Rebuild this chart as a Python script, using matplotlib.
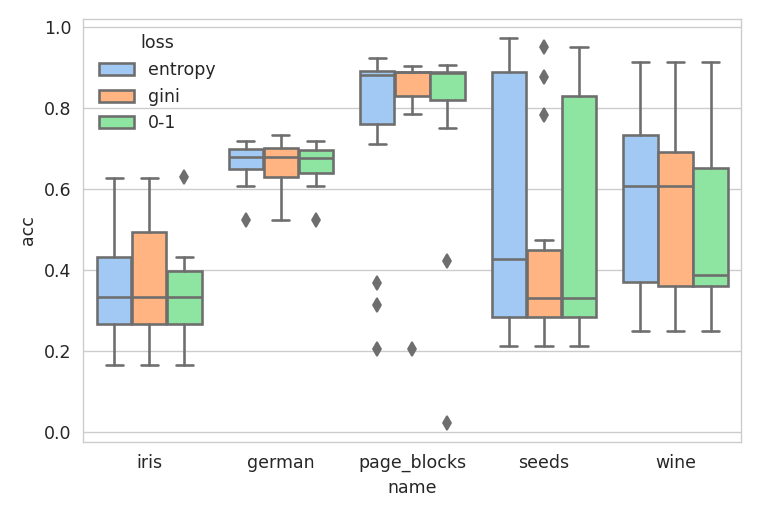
import numpy as np
import matplotlib.pyplot as plt
import seaborn as sns
from matplotlib.patches import Patch

names = ["iris", "german", "page_blocks", "seeds", "wine"]
losses = ["entropy", "gini", "0-1"]

# per dataset, per loss: (whislo, q1, med, q3, whishi)
stats = {
    "iris": [(0.164, 0.265, 0.333, 0.431, 0.627),
             (0.164, 0.265, 0.333, 0.494, 0.627),
             (0.164, 0.265, 0.333, 0.398, 0.431)],
    "german": [(0.608, 0.648, 0.679, 0.698, 0.717),
               (0.524, 0.628, 0.679, 0.702, 0.733),
               (0.608, 0.640, 0.676, 0.695, 0.717)],
    "page_blocks": [(0.711, 0.760, 0.881, 0.892, 0.923),
                    (0.784, 0.829, 0.888, 0.889, 0.904),
                    (0.749, 0.819, 0.887, 0.889, 0.906)],
    "seeds": [(0.212, 0.283, 0.427, 0.889, 0.973),
              (0.212, 0.283, 0.331, 0.450, 0.473),
              (0.212, 0.283, 0.331, 0.829, 0.949)],
    "wine": [(0.249, 0.371, 0.608, 0.733, 0.913),
             (0.249, 0.361, 0.608, 0.692, 0.913),
             (0.249, 0.361, 0.386, 0.651, 0.913)],
}
fliers = {
    "iris": [[], [], [0.629]],
    "german": [[0.524], [], [0.524]],
    "page_blocks": [[0.367, 0.313, 0.204], [0.204], [0.421, 0.022]],
    "seeds": [[], [0.951, 0.877, 0.783], []],
    "wine": [[], [], []],
}

sns.set_style("whitegrid")
colors = sns.color_palette("pastel")[:3]
gray = "#6e6e6e"

fig, ax = plt.subplots(figsize=(6.08, 4.128), dpi=125)
w = 0.8 / 3
for i, n in enumerate(names):
    for j in range(3):
        lo, q1, med, q3, hi = stats[n][j]
        st = [dict(whislo=lo, q1=q1, med=med, q3=q3, whishi=hi, fliers=fliers[n][j])]
        pos = i - 0.8 / 2 + w * (j + 0.5)
        ax.bxp(st, positions=[pos], widths=w * 0.98, patch_artist=True, manage_ticks=False,
               boxprops=dict(facecolor=colors[j], edgecolor=gray, linewidth=1.5),
               medianprops=dict(color=gray, linewidth=1.5),
               whiskerprops=dict(color=gray, linewidth=1.5),
               capprops=dict(color=gray, linewidth=1.5),
               flierprops=dict(marker="d", markerfacecolor=gray, markeredgecolor=gray, markersize=6))

ax.set_xticks(range(len(names)))
ax.set_xticklabels(names)
ax.set_xlim(-0.5, len(names) - 0.5)
ax.set_ylim(-0.025, 1.02)
ax.set_xlabel("name")
ax.set_ylabel("acc")
ax.xaxis.grid(False)
for s in ax.spines.values():
    s.set_color("#cccccc")
handles = [Patch(facecolor=c, edgecolor=gray, linewidth=1.5, label=l) for c, l in zip(colors, losses)]
ax.legend(handles=handles, title="loss", loc="upper left", frameon=False)
fig.tight_layout()
fig.savefig("out.png")
